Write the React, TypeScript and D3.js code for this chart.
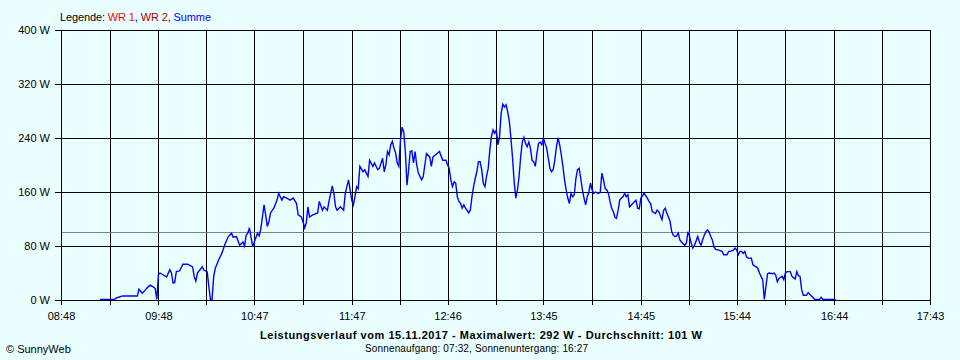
import React, { useEffect } from "react";
import * as d3 from "d3";

// ---- data ----
const tickLabels = ["08:48", "09:48", "10:47", "11:47", "12:46", "13:45", "14:45", "15:44", "16:44", "17:43"];
const yTicks = [0, 80, 160, 240, 320, 400];
const averageW = 101;
const maxW = 292;

const times = [
  "09:12","09:21","09:22","09:26","09:35","09:36","09:38","09:40","09:41","09:43","09:45","09:46","09:47","09:48","09:49","09:51","09:53","09:55","09:56","09:57","09:58","09:59",
  "10:01","10:03","10:06","10:09","10:10","10:11","10:12","10:15","10:16","10:18","10:19","10:20","10:21","10:22","10:23","10:25","10:27","10:29","10:31","10:33","10:34","10:36","10:38","10:40","10:41","10:42","10:43","10:44","10:46","10:47","10:49","10:50","10:51","10:52","10:53","10:54","10:55","10:56","10:57","10:59",
  "11:01","11:02","11:04","11:05","11:07","11:09","11:11","11:13","11:14","11:16","11:17","11:18","11:19","11:20","11:21","11:23","11:26","11:27","11:29","11:30","11:32","11:33","11:35","11:36","11:37","11:38","11:40","11:42","11:43","11:45","11:46","11:47","11:48","11:49","11:50","11:51","11:52","11:54","11:55","11:56","11:57","11:58",
  "12:00","12:01","12:03","12:04","12:06","12:07","12:08","12:09","12:10","12:11","12:12","12:13","12:14","12:15","12:16","12:17","12:18","12:19","12:20","12:21","12:22","12:23","12:24","12:25","12:26","12:27","12:28","12:30","12:31","12:32","12:33","12:35","12:36","12:37","12:39","12:41","12:43","12:45","12:46","12:47","12:48","12:49","12:50","12:51","12:52","12:53","12:54","12:55","12:56","12:57","12:58","12:59",
  "13:00","13:01","13:02","13:03","13:04","13:05","13:06","13:07","13:08","13:09","13:10","13:11","13:12","13:13","13:14","13:15","13:16","13:17","13:18","13:19","13:20","13:21","13:22","13:23","13:24","13:25","13:26","13:27","13:28","13:29","13:30","13:31","13:32","13:33","13:34","13:35","13:36","13:37","13:38","13:39","13:40","13:41","13:42","13:43","13:44","13:45","13:46","13:47","13:48","13:49","13:50","13:51","13:52","13:53","13:54","13:55","13:56","13:57","13:58","13:59",
  "14:00","14:01","14:02","14:03","14:04","14:05","14:06","14:07","14:08","14:09","14:10","14:11","14:12","14:13","14:14","14:15","14:16","14:17","14:19","14:20","14:21","14:22","14:23","14:24","14:25","14:26","14:27","14:28","14:29","14:30","14:31","14:32","14:33","14:34","14:35","14:36","14:37","14:38","14:40","14:42","14:43","14:44","14:45","14:47","14:49","14:50","14:51","14:52","14:54","14:55","14:56","14:58","14:59",
  "15:00","15:01","15:02","15:03","15:04","15:05","15:06","15:07","15:08","15:09","15:10","15:12","15:13","15:14","15:15","15:16","15:17","15:18","15:20","15:21","15:22","15:23","15:24","15:25","15:26","15:27","15:28","15:29","15:30","15:31","15:33","15:35","15:36","15:38","15:39","15:40","15:42","15:43","15:44","15:45","15:46","15:47","15:48","15:49","15:50","15:51","15:53","15:54","15:56","15:57","15:58","15:59",
  "16:00","16:01","16:02","16:03","16:04","16:06","16:07","16:08","16:09","16:10","16:12","16:13","16:14","16:15","16:16","16:17","16:18","16:20","16:21","16:22","16:23","16:24","16:25","16:27","16:28","16:30","16:32","16:35","16:36","16:37","16:44","16:45"
];

const summeW = [
  1,1,3,6,6,16,10,15,18,22,19,17,1,38,40,37,34,45,40,25,26,42,
  43,53,53,49,35,28,40,49,44,42,20,1,1,35,47,59,69,83,94,99,93,94,81,86,80,96,99,107,79,86,99,95,105,123,141,126,109,116,129,136,
  148,158,148,153,151,148,151,143,126,123,116,107,114,138,123,126,129,146,133,138,133,146,169,158,138,133,138,133,158,178,163,148,141,153,168,165,198,190,193,188,183,207,
  198,203,193,195,210,190,200,220,215,230,235,225,218,203,198,237,256,249,220,170,193,220,221,203,220,200,188,178,183,200,217,212,198,212,216,220,207,207,200,195,178,168,175,173,153,146,143,136,141,136,133,129,
  133,153,168,180,190,205,205,193,173,168,183,195,222,242,252,247,252,230,242,277,290,286,289,279,265,240,210,175,151,163,183,212,234,241,232,227,234,225,207,205,198,217,232,234,230,240,232,225,210,195,190,193,207,227,240,230,215,198,178,163,
  151,143,158,153,156,180,193,195,180,163,151,141,153,160,173,163,158,160,158,160,188,178,165,163,158,146,136,131,123,121,133,148,151,153,158,153,156,138,143,148,136,135,151,158,151,146,143,131,128,133,131,119,133,
  136,128,123,116,101,96,94,95,99,89,86,81,84,101,94,84,77,81,94,86,81,89,96,101,104,101,94,89,79,75,74,72,67,67,72,72,74,77,74,67,72,72,69,72,64,62,62,52,49,47,40,35,
  30,1,20,39,40,39,40,37,27,32,35,30,40,42,42,42,35,31,42,36,35,15,7,7,11,6,1,1,4,1,1,0
];

const legendItems = [
  { label: "WR 1", color: "#ff0000" },
  { label: "WR 2", color: "#b00000" },
  { label: "Summe", color: "#0000ff" },
];

const title = `Leistungsverlauf vom 15.11.2017 - Maximalwert: ${maxW} W - Durchschnitt: ${averageW} W`;
const subtitle = "Sonnenaufgang: 07:32, Sonnenuntergang: 16:27";

const toMin = (s: string) => {
  const [h, m] = s.split(":").map(Number);
  return h * 60 + m;
};

const W = 960;
const H = 360;
const BG = "#eaffff";
const FONT = "'Liberation Sans', Arial, sans-serif";

export default function App() {
  useEffect(() => {
    document.body.style.margin = "0";
  }, []);

  const x = d3.scaleLinear()
    .domain([toMin(tickLabels[0]), toMin(tickLabels[tickLabels.length - 1])])
    .range([61, 930]);
  const y = d3.scaleLinear().domain([0, 400]).range([300, 30]);

  const majorX = tickLabels.map((t) => x(toMin(t)));
  const gridX: number[] = [];
  majorX.forEach((v, i) => {
    gridX.push(v);
    if (i < majorX.length - 1) gridX.push((v + majorX[i + 1]) / 2);
  });
  const px = (v: number) => Math.round(v) + 0.5;

  const data = times.map((t, i) => ({ t: toMin(t), w: summeW[i] }));
  const line = d3.line<{ t: number; w: number }>()
    .x((d) => x(d.t))
    .y((d) => y(d.w));

  return (
    <svg width={W} height={H} style={{ position: "absolute", left: 0, top: 0, display: "block" }} fontFamily={FONT}>
      <rect x={0} y={0} width={W} height={H} fill={BG} />
      {/* horizontal grid */}
      {yTicks.map((v) => (
        <g key={"h" + v}>
          <line x1={55} x2={930} y1={px(y(v))} y2={px(y(v))} stroke="#000" strokeWidth={1} shapeRendering="crispEdges" />
          <text x={50} y={y(v) + 4} fontSize={11} textAnchor="end" fill="#000">{`${v} W`}</text>
        </g>
      ))}
      {/* vertical grid */}
      {gridX.map((v, i) => (
        <line key={"v" + i} x1={px(v)} x2={px(v)} y1={30} y2={305} stroke="#000" strokeWidth={1} shapeRendering="crispEdges" />
      ))}
      {/* average line */}
      <line x1={62} x2={930} y1={px(y(averageW))} y2={px(y(averageW))} stroke="#808080" strokeWidth={1} shapeRendering="crispEdges" />
      {/* x labels */}
      {tickLabels.map((t, i) => (
        <text key={"xl" + t} x={majorX[i] + 0.5} y={320} fontSize={11} textAnchor="middle" fill="#000">{t}</text>
      ))}
      {/* series */}
      <path d={line(data) || ""} fill="none" stroke="#0000ff" strokeWidth={1.4} strokeLinejoin="miter" />
      {/* legend */}
      <text x={60} y={21} fontSize={11} fill="#000" textLength={151} lengthAdjust="spacing">
        <tspan>Legende: </tspan>
        {legendItems.map((it, i) => (
          <React.Fragment key={it.label}>
            <tspan fill={it.color}>{it.label}</tspan>
            {i < legendItems.length - 1 ? <tspan fill="#000">, </tspan> : null}
          </React.Fragment>
        ))}
      </text>
      {/* titles */}
      <text x={260} y={339} fontSize={11} fontWeight="bold" fill="#000" textLength={442} lengthAdjust="spacing">{title}</text>
      <text x={365} y={352} fontSize={10} fill="#000" textLength={223} lengthAdjust="spacing">{subtitle}</text>
      <text x={6} y={353} fontSize={11} fill="#000">© SunnyWeb</text>
    </svg>
  );
}
